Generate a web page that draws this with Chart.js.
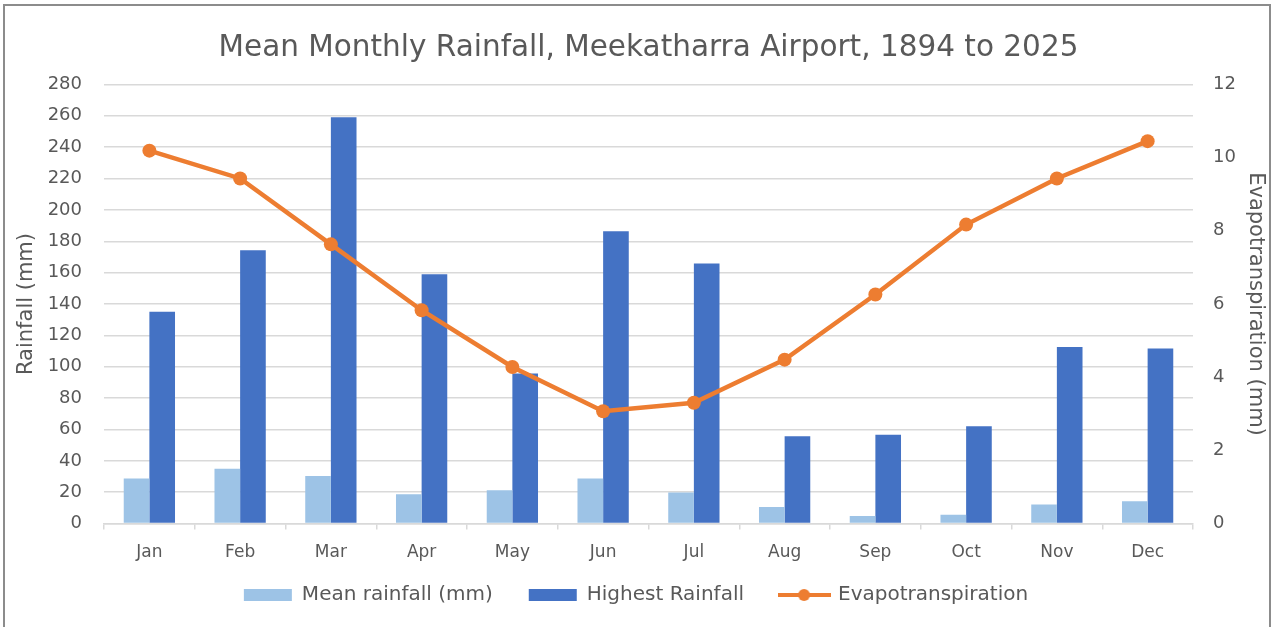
<!DOCTYPE html>
<html>
<head>
<meta charset="utf-8">
<title>Mean Monthly Rainfall, Meekatharra Airport</title>
<script src="https://cdn.jsdelivr.net/npm/chart.js@4/dist/chart.umd.min.js"></script>
<style>
    html, body { margin: 0; padding: 0; background: #fff; overflow: hidden; }
    #wrap { position: relative; width: 1272px; height: 627px; }
    #frame { position: absolute; left: 3px; top: 4px; width: 1264px; height: 640px; border: 2px solid #8c8c8c; border-bottom: none; pointer-events: none; }
</style>
</head>
<body>
<div id="wrap">
    <canvas id="rainChart"></canvas>
    <div id="frame"></div>
</div>
<script>
const months = ['Jan', 'Feb', 'Mar', 'Apr', 'May', 'Jun', 'Jul', 'Aug', 'Sep', 'Oct', 'Nov', 'Dec']
const meanRainfall = [28.7, 35, 30.4, 18.7, 21.2, 28.7, 19.8, 10.6, 4.9, 5.7, 12.1, 14.2]
const highestRainfall = [135, 174.3, 259, 159, 95.7, 186.4, 165.8, 55.7, 56.6, 62, 112.6, 111.6]
const evapotranspiration = [10.19, 9.43, 7.63, 5.83, 4.28, 3.07, 3.3, 4.48, 6.26, 8.17, 9.43, 10.45]

const grey = '#595959'
const font = "'DejaVu Sans', Verdana, sans-serif"

// little line+dot picture for the legend entry of the line series
function lineMarker(color)
{
    const c = document.createElement('canvas')
    c.width = 53
    c.height = 14
    const g = c.getContext('2d')
    g.strokeStyle = color
    g.lineWidth = 4
    g.beginPath()
    g.moveTo(0, 7)
    g.lineTo(53, 7)
    g.stroke()
    g.fillStyle = color
    g.beginPath()
    g.arc(26.5, 7, 6, 0, Math.PI * 2)
    g.fill()
    return c
}
const evapMarker = lineMarker('#ED7D31')

// the legend sits closer to the month labels than chart.js would put it
const liftLegend = {
    id: 'liftLegend',
    afterLayout(chart) {
        chart.legend.top -= 27
        chart.legend.bottom -= 27
    }
}

const ctx = document.querySelector('#rainChart')

new Chart(ctx, {
    type: 'bar',
    data: {
        labels: months,
        datasets: [
            {
                type: 'line',
                label: 'Evapotranspiration',
                data: evapotranspiration,
                yAxisID: 'y2',
                borderColor: '#ED7D31',
                backgroundColor: '#ED7D31',
                borderWidth: 4.5,
                pointRadius: 7,
                pointHoverRadius: 7,
                pointBorderWidth: 0,
                tension: 0,
                order: 0
            },
            {
                label: 'Mean rainfall (mm)',
                data: meanRainfall,
                yAxisID: 'y',
                backgroundColor: '#9DC3E6',
                order: 1
            },
            {
                label: 'Highest Rainfall',
                data: highestRainfall,
                yAxisID: 'y',
                backgroundColor: '#4472C4',
                order: 1
            }
        ]
    },
    plugins: [liftLegend],
    options: {
        responsive: true,
        maintainAspectRatio: false,
        animation: false,
        datasets: {
            bar: {
                barPercentage: 1,
                categoryPercentage: 0.565
            }
        },
        layout: {
            padding: { left: 0, right: 0, top: 0, bottom: -15 }
        },
        plugins: {
            title: {
                display: true,
                fullSize: false,
                text: 'Mean Monthly Rainfall, Meekatharra Airport, 1894 to 2025',
                color: grey,
                font: { family: font, size: 29.5, weight: 'normal' },
                padding: { top: 31, bottom: 18 }
            },
            legend: {
                position: 'bottom',
                labels: {
                    color: grey,
                    font: { family: font, size: 20 },
                    usePointStyle: true,
                    pointStyleWidth: 48,
                    boxHeight: 12,
                    padding: 36,
                    generateLabels: function(chart) {
                        const items = Chart.defaults.plugins.legend.labels.generateLabels(chart)
                        items.forEach(function(item) {
                            item.pointStyle = item.datasetIndex === 0 ? evapMarker : 'rect'
                            item.lineWidth = 0
                        })
                        // bars first, line last
                        return [items[1], items[2], items[0]]
                    }
                }
            },
            tooltip: { enabled: false }
        },
        scales: {
            x: {
                grid: {
                    offset: true,
                    drawOnChartArea: false,
                    drawTicks: true,
                    tickLength: 6,
                    color: '#d9d9d9',
                    lineWidth: 1.5
                },
                border: { color: '#d9d9d9', width: 1.5 },
                ticks: {
                    color: grey,
                    font: { family: font, size: 17 },
                    padding: 13
                }
            },
            y: {
                position: 'left',
                min: 0,
                max: 280,
                ticks: {
                    stepSize: 20,
                    color: grey,
                    font: { family: font, size: 18 },
                    padding: 22
                },
                grid: { color: '#d9d9d9', lineWidth: 1.5, drawTicks: false },
                border: { display: false },
                title: {
                    display: true,
                    text: 'Rainfall (mm)',
                    color: grey,
                    font: { family: font, size: 21 },
                    padding: { top: 14, bottom: 0 }
                },
                afterFit: function(scale) { scale.width = 104 }
            },
            y2: {
                position: 'right',
                min: 0,
                max: 12,
                ticks: {
                    stepSize: 2,
                    color: grey,
                    font: { family: font, size: 18 },
                    padding: 20
                },
                grid: { drawOnChartArea: false, drawTicks: false },
                border: { display: false },
                title: {
                    display: true,
                    text: 'Evapotranspiration (mm)',
                    color: grey,
                    font: { family: font, size: 21 },
                    padding: { top: 4, bottom: 0 }
                },
                afterFit: function(scale) { scale.width = 79 }
            }
        }
    }
})
</script>
</body>
</html>
